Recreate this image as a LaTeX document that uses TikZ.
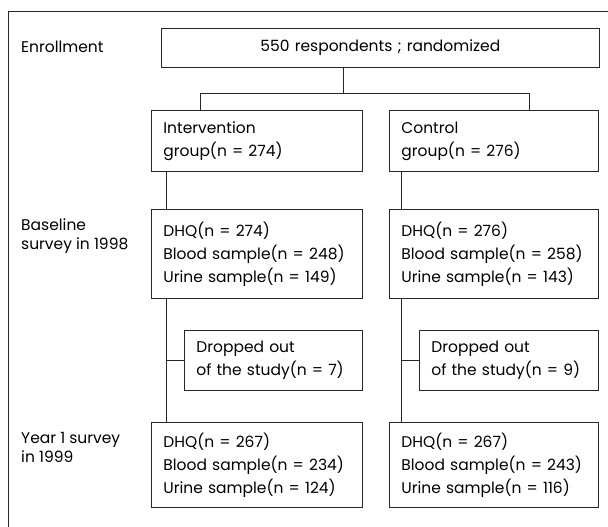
\documentclass[tikz,border=0pt]{standalone}
\usepackage{fontspec}
\setmainfont{Poppins}
\begin{document}
\begin{tikzpicture}[x=1pt,y=-1pt,
  every node/.style={font=\fontsize{15.5}{23}\selectfont},
  frame/.style={line width=0.8pt, draw=black!85},
  box/.style={draw=black!85, line width=0.8pt, rectangle, anchor=north west,
    inner xsep=12pt, inner ysep=0pt, align=left},
  label/.style={anchor=west, inner sep=0pt, align=left,
    font=\fontsize{15.5}{19}\selectfont},
  link/.style={draw=black!85, line width=0.8pt}]
\useasboundingbox (0,0) rectangle (608,527);

% open frame: top and left rules only
\draw[frame] (608,11) -- (8,11) -- (8,527);

% row labels
\node[label] (lenr) at (21,47) {Enrollment};
\node[label] (lbase) at (21,236) {Baseline\\survey in 1998};
\node[label] (lyear) at (21,447) {Year 1 survey\\in 1999};

% boxes
\node[box, minimum width=438pt, minimum height=39pt, text width=414pt, align=center]
  (top) at (161,28) {550 respondents ; randomized};
\node[box, minimum width=211pt, minimum height=61pt, text width=187pt]
  (intv) at (151,110) {Intervention\\group(n = 274)};
\node[box, minimum width=209pt, minimum height=61pt, text width=185pt]
  (ctrl) at (389,110) {Control\\group(n = 276)};
\node[box, minimum width=211pt, minimum height=89pt, text width=187pt]
  (baseI) at (151,209) {DHQ(n = 274)\\Blood sample(n = 248)\\Urine sample(n = 149)};
\node[box, minimum width=209pt, minimum height=89pt, text width=185pt]
  (baseC) at (389,209) {DHQ(n = 276)\\Blood sample(n = 258)\\Urine sample(n = 143)};
\node[box, minimum width=178pt, minimum height=60pt, text width=154pt]
  (dropI) at (184,330) {Dropped out\\of the study(n = 7)};
\node[box, minimum width=179pt, minimum height=60pt, text width=155pt]
  (dropC) at (419,330) {Dropped out\\of the study(n = 9)};
\node[box, minimum width=211pt, minimum height=85pt, text width=187pt]
  (yearI) at (151,422) {DHQ(n = 267)\\Blood sample(n = 234)\\Urine sample(n = 124)};
\node[box, minimum width=209pt, minimum height=85pt, text width=185pt]
  (yearC) at (389,422) {DHQ(n = 267)\\Blood sample(n = 243)\\Urine sample(n = 116)};

% randomisation split
\coordinate (j) at (343,93);
\coordinate (bl) at (200,93);
\coordinate (br) at (529,93);
\draw[link] (top.south -| j) -- (j);
\draw[link] (bl) -- (br);
\draw[link] (bl) -- (bl |- intv.north);
\draw[link] (br) -- (br |- ctrl.north);

% intervention arm
\coordinate (ti) at ([xshift=15pt]intv.south west);
\draw[link] (ti) -- (ti |- baseI.north);
\draw[link] (ti |- baseI.south) -- (ti |- yearI.north);
\draw[link] (ti |- dropI.west) -- (dropI.west);

% control arm
\coordinate (tc) at ([xshift=12pt]ctrl.south west);
\draw[link] (tc) -- (tc |- baseC.north);
\draw[link] (tc |- baseC.south) -- (tc |- yearC.north);
\draw[link] (tc |- dropC.west) -- (dropC.west);
\end{tikzpicture}
\end{document}
